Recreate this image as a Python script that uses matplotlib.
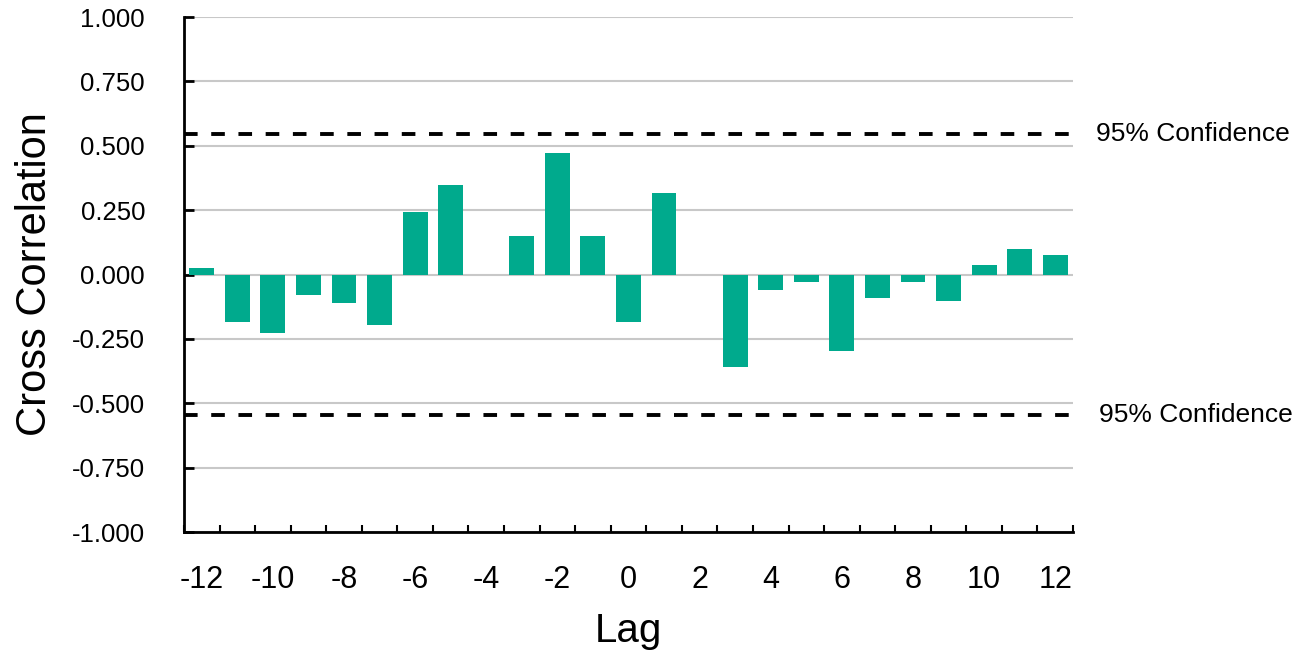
import numpy as np
import matplotlib
matplotlib.use('Agg')
import matplotlib.pyplot as plt
from matplotlib.transforms import blended_transform_factory

plt.rcParams['font.family'] = ['Liberation Sans', 'DejaVu Sans']
plt.rcParams['axes.unicode_minus'] = False

lags = list(range(-12, 13))
xcorr = [0.025, -0.185, -0.227, -0.079, -0.111, -0.197, 0.243, 0.348, 0.0,
         0.150, 0.473, 0.150, -0.185, 0.317, 0.0, -0.360, -0.060, -0.030,
         -0.296, -0.092, -0.030, -0.103, 0.037, 0.099, 0.076]
conf_level = 0.545
conf_label = '95% Confidence'
yticks = [-1.0, -0.75, -0.5, -0.25, 0.0, 0.25, 0.5, 0.75, 1.0]

fig = plt.figure(figsize=(13.14, 6.56), dpi=100)
ax = fig.add_axes([0.140, 0.189, 0.6766, 0.785])

ax.bar(lags, xcorr, width=0.7, color='#00AA8D', zorder=3)

# grid lines
for y in yticks:
    ax.axhline(y, color='#c8c8c8', linewidth=1.5, zorder=1)

# confidence lines
trans = blended_transform_factory(ax.transAxes, ax.transData)
for c, xo in [(conf_level, 1.026), (-conf_level, 1.029)]:
    ax.axhline(c, color='black', linewidth=2.8, linestyle=(0, (3.5, 3.5)), zorder=4)
    ax.text(xo, c, conf_label, transform=trans, ha='left', va='center',
            fontsize=19, clip_on=False)

ax.set_xlim(-12.5, 12.5)
ax.set_ylim(-1.0, 1.0)
ax.set_yticks(yticks)
ax.set_yticklabels(['%.3f' % v for v in yticks])
ax.set_xticks(range(-12, 13, 2))
ax.set_xticks(np.arange(-12.5, 13, 1), minor=True)

ax.tick_params(axis='x', which='major', length=0, labelsize=22, pad=24)
ax.tick_params(axis='x', which='minor', direction='in', length=5, width=1.5)
ax.tick_params(axis='y', direction='in', length=7, width=2, labelsize=18.5, pad=28)

for s in ['top', 'right']:
    ax.spines[s].set_visible(False)
for s in ['left', 'bottom']:
    ax.spines[s].set_linewidth(2)
    ax.spines[s].set_zorder(5)

ax.set_xlabel('Lag', fontsize=29, labelpad=12)
ax.set_ylabel('Cross Correlation', fontsize=30, labelpad=12)

fig.savefig('out.png', dpi=100)
